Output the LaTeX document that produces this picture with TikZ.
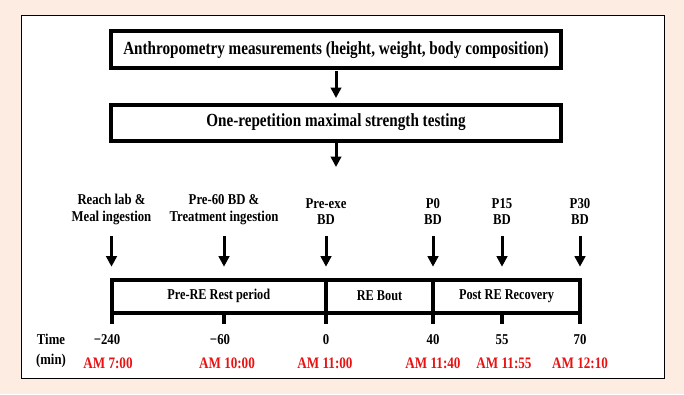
\documentclass[tikz,border=0pt]{standalone}
\usepackage{fontspec}
\setmainfont{Liberation Serif}[FakeStretch=0.85]
\newfontfamily\narrowfont{Liberation Serif}[FakeStretch=0.82]
\usetikzlibrary{arrows.meta}

\definecolor{peach}{RGB}{252,236,226}
\definecolor{clockred}{RGB}{232,18,18}

\tikzset{
  stepbox/.style={draw,line width=4pt,outer sep=0pt,inner sep=0pt,
    minimum width=449.4pt,font=\narrowfont\bfseries\fontsize{18.5}{21}\selectfont},
  phase/.style={draw,line width=4pt,outer sep=0pt,inner sep=0pt,
    minimum height=32.8pt,font=\narrowfont\bfseries\fontsize{15}{17}\selectfont},
  event/.style={align=center,inner sep=0pt,
    font=\bfseries\fontsize{15}{16.5}\selectfont},
  minute/.style={anchor=base,inner sep=0pt,font=\bfseries\fontsize{15}{17}\selectfont},
  clock/.style={anchor=base,inner sep=0pt,text=clockred,
    font=\narrowfont\bfseries\fontsize{16}{18}\selectfont},
  pointer/.style={-{Triangle[width=10.5pt,length=10.5pt]},line width=3pt},
  tick/.style={line width=4pt}
}

\begin{document}
\begin{tikzpicture}[x=1pt,y=-1pt]
\useasboundingbox (0,0) rectangle (684,394);
\fill[peach] (0,0) rectangle (684,394);
\draw[fill=white,line width=0.8pt] (21,15.7) rectangle (664.3,378);

% study steps
\node[stepbox,minimum height=36.7pt] (anthro) at (336,49.65)
  {Anthropometry measurements (height, weight, body composition)};
\node[stepbox,minimum height=36pt] (onerm) at (336,122.5)
  {One-repetition maximal strength testing};
\coordinate (day) at (336,167);
\draw[pointer,shorten <=3pt,shorten >=6.5pt] (anthro) -- (onerm);
\draw[pointer,shorten <=2.5pt] (onerm) -- (day);

% time line
\node[phase,minimum width=214.5pt] (rest) at (218.75,296.1) {Pre-RE Rest period};
\node[phase,minimum width=107pt] (bout) at (379.5,296.1) {RE Bout};
\node[phase,minimum width=147pt] (recov) at (506.5,296.1) {Post RE Recovery};

\foreach \x/\txt [count=\i] in {111.5/{Reach lab \&\\Meal ingestion},
    224/{Pre-60 BD \&\\Treatment ingestion}, 326/{Pre-exe\\BD},
    433/{P0\\BD}, 502/{P15\\BD}, 580/{P30\\BD}}{
  \node[event,anchor=south] (ev\i) at (\x,225) {\txt};
  \draw[pointer,shorten <=11pt,shorten >=13pt] (ev\i.south) -- (ev\i.south |- rest.north);
  \draw[tick] (ev\i.south |- rest.south) -- ++(0,11.5);
}

\node[minute] (time) at (51,344.7) {Time};
\node[minute] (unit) at (51,364.5) {(min)};

\foreach \x/\num [count=\i] in {107/−240, 220/−60, 326/0, 433/40, 502/55, 580/70}
  \node[minute] (mn\i) at (\x,344.7) {\num};

\foreach \x/\t [count=\i] in {108/AM 7:00, 227/AM 10:00, 325/AM 11:00,
    433/AM 11:40, 504/AM 11:55, 580/AM 12:10}
  \node[clock] (ck\i) at (\x,368.5) {\t};

\end{tikzpicture}
\end{document}
